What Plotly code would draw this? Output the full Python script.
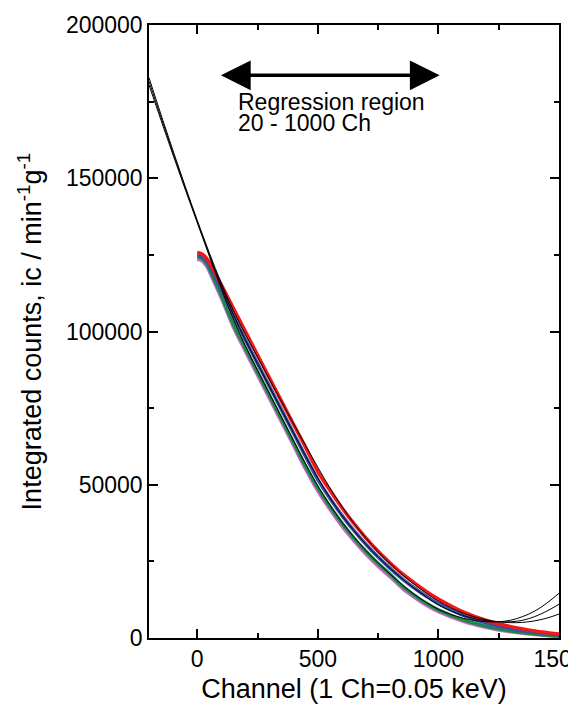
import plotly.graph_objects as go

# ---- data ----
ch_data = [0, 20, 40, 60, 80, 100, 150, 200, 250, 300, 350, 400, 450, 500, 550, 600, 650,
           700, 750, 800, 850, 900, 950, 1000, 1100, 1200, 1300, 1400, 1500]

red = [125800, 125300, 123800, 121200, 118200, 115200, 107600, 100000, 92400, 84800, 77200,
       69600, 62100, 54300, 48200, 42500, 37300, 32600, 28300, 24500, 21000, 18000, 15200,
       12700, 8600, 5700, 3700, 2300, 1300]
blue = [125000, 124500, 122900, 120100, 116900, 113700, 105100, 97200, 89600, 82000, 74400,
        66700, 59100, 51700, 45600, 40000, 35000, 30500, 26400, 22700, 19300, 16300, 13600,
        11200, 7500, 4900, 3100, 1900, 1000]
green = [124300, 123800, 122000, 118700, 115300, 111800, 102300, 94500, 86800, 79100, 71400,
         63700, 56000, 49000, 43000, 37500, 32600, 28200, 24300, 20800, 17000, 14000, 11300,
         9200, 6000, 3800, 2300, 1300, 650]
magenta = [123600, 123100, 121200, 117900, 114400, 110900, 101400, 93500, 85800, 78100, 70400,
           62700, 55000, 48000, 42000, 36500, 31700, 27300, 23400, 19900, 16200, 13300, 10700,
           8600, 5500, 3400, 2000, 1100, 450]

ch_fit = [-200, -150, -100, -50, 0, 50, 100, 150, 200, 250, 300, 350, 400, 450, 500, 550, 600,
          650, 700, 750, 800, 850, 900, 950, 1000, 1050, 1100, 1150, 1200, 1250, 1300, 1350,
          1400, 1450, 1500]
fit_red = [182800, 170700, 158900, 147400, 136300, 125700, 115700, 106800, 99000, 91600, 84300,
           77000, 69800, 62700, 55700, 49000, 42900, 37400, 32500, 28100, 24200, 20700, 17500,
           14600, 12000, 9900, 8200, 6900, 5900, 5300, 5000, 5100, 5600, 6500, 7800]
fit_blue = [181600, 169800, 158200, 146900, 135900, 125100, 114900, 105500, 97200, 89500, 81900,
            74300, 66800, 59300, 52200, 45800, 40000, 35000, 30500, 26400, 22700, 19300, 16200,
            13400, 10800, 8900, 7400, 6300, 5600, 5300, 5300, 5800, 7000, 8800, 11000]
fit_green = [180400, 168900, 157500, 146400, 135500, 124600, 114000, 104000, 95200, 87300, 79600,
             71900, 64200, 56700, 49600, 43400, 37800, 32900, 28500, 24500, 20800, 17300, 14200,
             11600, 9300, 7700, 6500, 5700, 5300, 5300, 5800, 7000, 8800, 11400, 14600]

x_ticks = [0, 500, 1000, 1500]
y_ticks = [0, 50000, 100000, 150000, 200000]

FONT = "Arial, Liberation Sans, sans-serif"

fig = go.Figure()
for vals, col in [(magenta, "#c868c8"), (green, "#1a8a46"), (blue, "#3a4fa8"), (red, "#f01818")]:
    fig.add_trace(go.Scatter(x=ch_data, y=vals, mode="lines", line=dict(color=col, width=3.5, shape="spline"),
                             showlegend=False, hoverinfo="skip"))
for vals in [fit_green, fit_blue, fit_red]:
    fig.add_trace(go.Scatter(x=ch_fit, y=vals, mode="lines", line=dict(color="black", width=1, shape="spline"),
                             showlegend=False, hoverinfo="skip"))

fig.add_annotation(x=1005, y=183600, ax=92, ay=183600, xref="x", yref="y", axref="x", ayref="y",
                   text="", showarrow=True, arrowside="end+start", arrowhead=2, arrowsize=1.7,
                   arrowwidth=3.5, arrowcolor="black")
fig.add_annotation(x=162, y=174900, xref="x", yref="y", text="Regression region", showarrow=False,
                   xanchor="left", yanchor="middle", font=dict(size=23, color="black", family=FONT))
fig.add_annotation(x=162, y=168000, xref="x", yref="y", text="20 - 1000 Ch", showarrow=False,
                   xanchor="left", yanchor="middle", font=dict(size=23, color="black", family=FONT))

axis_common = dict(showline=True, linecolor="black", linewidth=1.5, mirror="ticks", ticks="inside",
                   ticklen=9, tickwidth=1.5, tickcolor="black", showgrid=False, zeroline=False,
                   ticklabeloverflow="allow",
                   tickfont=dict(size=23, color="black", family=FONT))
fig.update_xaxes(range=[-200, 1500], tickvals=x_ticks, ticktext=[str(v) for v in x_ticks],
                 automargin="bottom",
                 minor=dict(ticks="inside", ticklen=5, tickwidth=1.5, tickcolor="black", dtick=250, tick0=0, showgrid=False),
                 title=dict(text="Channel (1 Ch=0.05 keV)", font=dict(size=27, color="black", family=FONT), standoff=8),
                 **axis_common)
fig.update_yaxes(range=[0, 200000], tickvals=y_ticks, ticktext=[str(v) for v in y_ticks],
                 automargin="left",
                 minor=dict(ticks="inside", ticklen=5, tickwidth=1.5, tickcolor="black", dtick=25000, tick0=0, showgrid=False),
                 title=dict(text="Integrated counts, ic / min<sup>-1</sup>g<sup>-1</sup>",
                            font=dict(size=27, color="black", family=FONT), standoff=16),
                 **axis_common)
# the page body has an 8px margin, so the figure is sized to fit inside the window
fig.update_layout(width=568, height=703, margin=dict(l=141, r=17, t=17, b=73),
                  paper_bgcolor="white", plot_bgcolor="white", font=dict(family=FONT, color="black"))
fig.write_html("out.html")
